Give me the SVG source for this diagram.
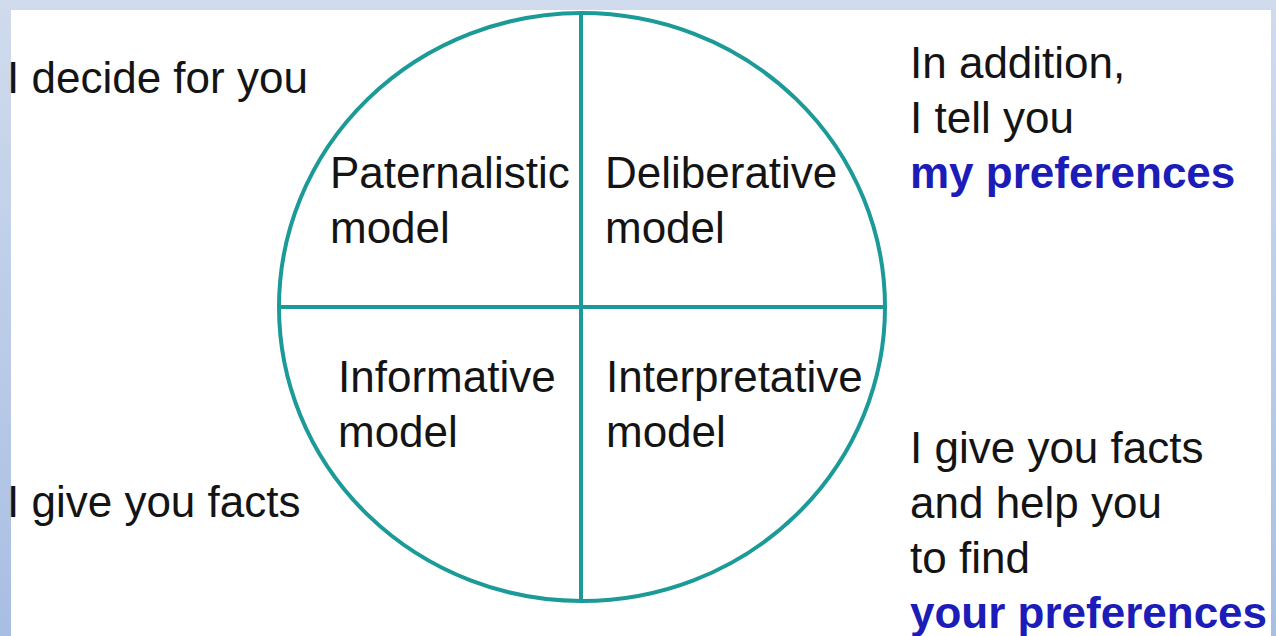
<svg xmlns="http://www.w3.org/2000/svg" width="1276" height="636" viewBox="0 0 1276 636">
<defs>
<linearGradient id="bg" x1="0" y1="0" x2="0" y2="1">
<stop offset="0" stop-color="#d0dbed"/>
<stop offset="1" stop-color="#a8bee3"/>
</linearGradient>
</defs>
<style>
.t{font-family:"Liberation Sans",Arial,sans-serif;font-size:44px;fill:#141414}
.b{font-family:"Liberation Sans",Arial,sans-serif;font-size:44px;font-weight:bold;fill:#1c1cb8}
.ln{stroke:#1b9a98;stroke-width:4;fill:none}
</style>
<rect x="0" y="0" width="1276" height="636" fill="url(#bg)"/>
<rect x="11" y="10" width="1260" height="626" fill="#ffffff"/>
<g id="circle">
<ellipse class="ln" cx="582" cy="307" rx="303" ry="294"/>
</g>
<g id="connectors">
<line class="ln" x1="581" y1="13" x2="581" y2="601"/>
<line class="ln" x1="279" y1="307" x2="885" y2="307"/>
</g>
<g id="paternalistic"><text class="t" x="330" y="188">Paternalistic</text><text class="t" x="330" y="243">model</text></g>
<g id="deliberative"><text class="t" x="605" y="188">Deliberative</text><text class="t" x="605" y="243">model</text></g>
<g id="informative"><text class="t" x="338" y="392">Informative</text><text class="t" x="338" y="447">model</text></g>
<g id="interpretative"><text class="t" x="606" y="392">Interpretative</text><text class="t" x="606" y="447">model</text></g>
<g id="label-decide"><text class="t" x="7" y="93">I decide for you</text></g>
<g id="label-facts"><text class="t" x="7" y="517">I give you facts</text></g>
<g id="label-addition"><text class="t" x="910" y="78">In addition,</text><text class="t" x="910" y="133">I tell you</text><text class="b" x="910" y="188">my preferences</text></g>
<g id="label-help"><text class="t" x="910" y="463">I give you facts</text><text class="t" x="910" y="518">and help you</text><text class="t" x="910" y="573">to find</text><text class="b" x="910" y="628">your preferences</text></g>
</svg>
